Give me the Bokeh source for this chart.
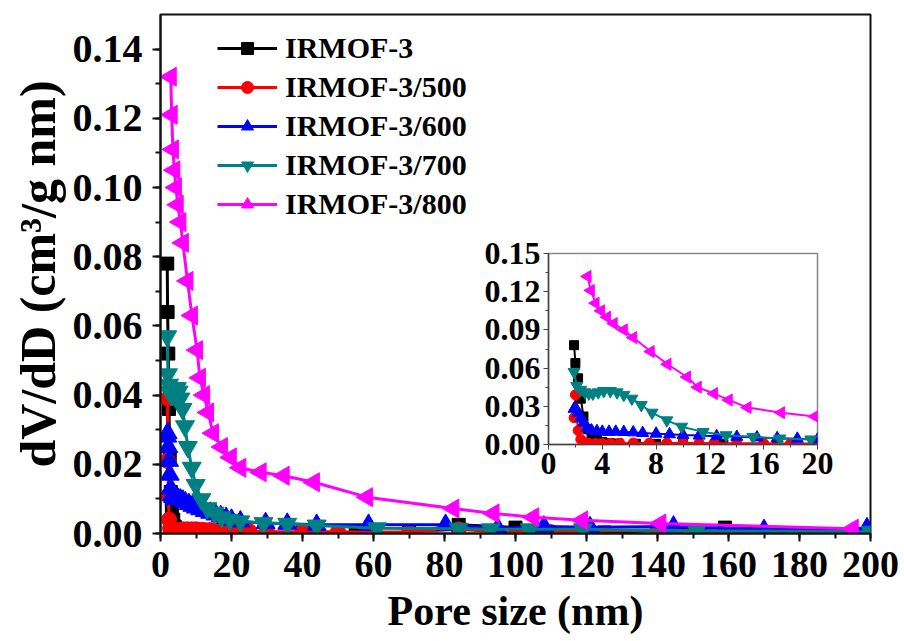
import math
from bokeh.plotting import figure
from bokeh.models import (SingleIntervalTicker, FixedTicker, NumeralTickFormatter,
                          Range1d, Legend, LegendItem)
from bokeh.embed import file_html
from bokeh.resources import INLINE

# ---------------- data ----------------
names = ["IRMOF-3", "IRMOF-3/500", "IRMOF-3/600", "IRMOF-3/700", "IRMOF-3/800"]
colors = ["#000000", "#FF0000", "#0000FF", "#008080", "#FF00FF"]

x_irmof3 = [1.9, 2.0, 2.2, 2.4, 2.6, 2.9, 3.2, 3.6, 4.0, 4.5, 5.2, 6.5, 8, 10, 13, 17, 22, 30, 40, 55, 70, 84, 100, 125, 159, 200]
y_irmof3 = [0.078, 0.064, 0.052, 0.036, 0.022, 0.012, 0.007, 0.004, 0.002, 0.0012, 0.0008, 0.0006, 0.0005, 0.0004,
            0.0004, 0.0003, 0.0003, 0.0003, 0.0003, 0.0003, 0.0003, 0.0025, 0.0017, 0.0003, 0.0017, 0.0002]

x_500 = [1.9, 2.0, 2.1, 2.2, 2.4, 2.7, 3.0, 3.5, 4.0, 4.6, 5.3, 6.3, 7.5, 8.8, 10, 11.2, 12.3, 14, 16, 18, 20,
         25, 30, 40, 50, 60, 70, 84, 95, 110, 140, 160, 200]
y_500 = [0.021, 0.039, 0.021, 0.011, 0.004, 0.0015, 0.0008, 0.0007, 0.0007, 0.0008, 0.0010, 0.0012, 0.0012, 0.0012,
         0.0012, 0.0011, 0.0010, 0.0010, 0.0009, 0.0008, 0.0008, 0.0007, 0.0006, 0.0005, 0.0005, 0.0004, 0.0004,
         0.0012, 0.0004, 0.0004, 0.0010, 0.0003, 0.0003]

x_600 = [1.9, 2.0, 2.2, 2.4, 2.6, 2.9, 3.2, 3.6, 4.0, 4.5, 5.0, 5.6, 6.3, 7.0, 8.0, 9.0, 10.0, 11.2, 12.5, 14,
         15.5, 17, 18.5, 20, 22.5, 29.6, 35.7, 44, 58.6, 80.3, 95, 108, 121, 144.5, 170, 199]
y_600 = [0.028, 0.029, 0.025, 0.021, 0.017, 0.013, 0.011, 0.0105, 0.010, 0.010, 0.010, 0.0098, 0.0095, 0.009,
         0.0085, 0.008, 0.0075, 0.007, 0.0065, 0.006, 0.0055, 0.005, 0.0045, 0.004, 0.0035, 0.003, 0.0028,
         0.0025, 0.0025, 0.0025, 0.0015, 0.002, 0.0018, 0.002, 0.001, 0.0015]

x_700 = [1.9, 2.1, 2.4, 2.7, 3.0, 3.3, 3.7, 4.1, 4.6, 5.1, 5.6, 6.2, 6.9, 7.7, 8.8, 9.9, 11.5, 13.2, 15.2, 17.2,
         19.5, 22.5, 29, 35.7, 44, 61, 84, 93, 104, 119, 151, 200]
y_700 = [0.057, 0.046, 0.043, 0.041, 0.040, 0.040, 0.041, 0.042, 0.042, 0.041, 0.039, 0.036, 0.031, 0.025, 0.019,
         0.014, 0.0099, 0.0073, 0.006, 0.0047, 0.004, 0.0035, 0.003, 0.0028, 0.0023, 0.0015, 0.0014, 0.0012,
         0.0012, 0.0012, 0.0008, 0.0005]

x_800 = [2.9, 3.15, 3.5, 3.9, 4.35, 4.85, 5.6, 6.3, 7.6, 8.85, 10.3, 11.1, 12.3, 13.4, 14.8, 17.3, 19.8, 22.5,
         28.2, 34.7, 43.2, 58.2, 82.5, 93.8, 105, 118.8, 140.8, 195]
y_800 = [0.132, 0.121, 0.111, 0.105, 0.100, 0.095, 0.090, 0.084, 0.073, 0.063, 0.053, 0.045, 0.040, 0.035, 0.029,
         0.025, 0.022, 0.019, 0.0177, 0.0167, 0.0148, 0.0105, 0.0072, 0.0058, 0.0047, 0.0038, 0.0029, 0.0014]

series_x = [x_irmof3, x_500, x_600, x_700, x_800]
series_y = [y_irmof3, y_500, y_600, y_700, y_800]
markers = ["square", "circle", "triangle", "inverted_triangle", "triangle"]
angles = [0, 0, 0, 0, math.pi / 2]

main_y_ticks = [0.00, 0.02, 0.04, 0.06, 0.08, 0.10, 0.12, 0.14]
inset_y_ticks = [0.00, 0.03, 0.06, 0.09, 0.12, 0.15]
inset_x_ticks = [0, 4, 8, 12, 16, 20]

FONT = "Liberation Serif"

# ---------------- main figure ----------------
p = figure(width=904, height=641, output_backend="svg", toolbar_location=None,
           x_range=Range1d(0, 200), y_range=Range1d(0, 0.15),
           min_border_left=160, min_border_right=34, min_border_top=14, min_border_bottom=108)
p.grid.visible = False
p.outline_line_color = "#111111"
p.outline_line_width = 2
p.background_fill_color = "white"
p.border_fill_color = "white"

msizes = [13, 15, 19, 19, 19]
items = []
for i in range(5):
    r1 = p.line(series_x[i], series_y[i], line_color=colors[i], line_width=3)
    r2 = p.scatter(series_x[i], series_y[i], marker=markers[i], size=msizes[i], angle=angles[i],
                   fill_color=colors[i], line_color=colors[i])
    items.append(LegendItem(label=names[i], renderers=[r1, r2]))

legend = Legend(items=items, location=(52, 307))
legend.label_text_font = FONT
legend.label_text_font_style = "bold"
legend.label_text_font_size = "30px"
legend.label_text_color = "black"
legend.glyph_width = 60
legend.glyph_height = 30
legend.label_height = 30
legend.label_standoff = 8
legend.spacing = 5
legend.padding = 5
legend.margin = 0
legend.border_line_alpha = 0
legend.background_fill_alpha = 0
p.add_layout(legend)

xa = p.xaxis[0]
ya = p.yaxis[0]
xa.ticker = SingleIntervalTicker(interval=20, num_minor_ticks=2)
ya.ticker = FixedTicker(ticks=main_y_ticks, minor_ticks=[0.01 * k for k in range(15)])
ya.formatter = NumeralTickFormatter(format="0.00")
for ax in (xa, ya):
    ax.axis_line_width = 2
    ax.axis_line_color = "#111111"
    ax.major_tick_line_width = 2
    ax.minor_tick_line_width = 2
    ax.major_tick_line_color = "#111111"
    ax.minor_tick_line_color = "#111111"
    ax.major_tick_out = 8
    ax.major_tick_in = 0
    ax.minor_tick_out = 5
    ax.minor_tick_in = 0
    ax.major_label_text_font = FONT
    ax.major_label_text_font_style = "bold"
    ax.major_label_text_color = "black"
    ax.axis_label_text_font = FONT
    ax.axis_label_text_font_style = "bold"
    ax.axis_label_text_color = "black"
xa.major_label_text_font_size = "38px"
ya.major_label_text_font_size = "40px"
xa.major_label_standoff = 10
ya.major_label_standoff = 10
xa.axis_label = "Pore size (nm)"
ya.axis_label = "dV/dD (cm³/g nm)"
xa.axis_label_text_font_size = "42px"
ya.axis_label_text_font_size = "50px"
xa.axis_label_standoff = 8
ya.axis_label_standoff = 4

# ---------------- inset figure (separate root, placed over the main plot) ----------------
ins = figure(frame_width=269, frame_height=191, output_backend="svg", toolbar_location=None,
             x_range=Range1d(0, 20), y_range=Range1d(0, 0.15),
             min_border_left=70, min_border_right=18, min_border_top=20, min_border_bottom=40,
             styles={"position": "absolute", "left": "478px", "top": "233px"})
ins.grid.visible = False
ins.outline_line_color = "#888888"
ins.outline_line_width = 1.5
ins.background_fill_color = "white"
ins.border_fill_alpha = 0
isizes = [9, 10, 12, 12, 12]
for i in range(5):
    xs = [v for v in series_x[i] if v <= 20.5]
    ys = series_y[i][:len(xs)]
    ins.line(xs, ys, line_color=colors[i], line_width=2)
    ins.scatter(xs, ys, marker=markers[i], size=isizes[i], angle=angles[i],
                fill_color=colors[i], line_color=colors[i])

ixa = ins.xaxis[0]
iya = ins.yaxis[0]
ixa.ticker = FixedTicker(ticks=inset_x_ticks, minor_ticks=[2 * k for k in range(11)])
iya.ticker = FixedTicker(ticks=inset_y_ticks, minor_ticks=[0.015 * k for k in range(11)])
iya.formatter = NumeralTickFormatter(format="0.00")
for ax in (ixa, iya):
    ax.axis_line_width = 1.5
    ax.axis_line_color = "#444444"
    ax.major_tick_line_color = "#444444"
    ax.minor_tick_line_color = "#444444"
    ax.major_tick_out = 5
    ax.major_tick_in = 0
    ax.minor_tick_out = 3
    ax.minor_tick_in = 0
    ax.major_label_text_font = FONT
    ax.major_label_text_font_style = "bold"
    ax.major_label_text_color = "black"
    ax.major_label_text_font_size = "32px"
    ax.major_label_standoff = 3

with open("out.html", "w") as f:
    f.write(file_html([p, ins], INLINE))
